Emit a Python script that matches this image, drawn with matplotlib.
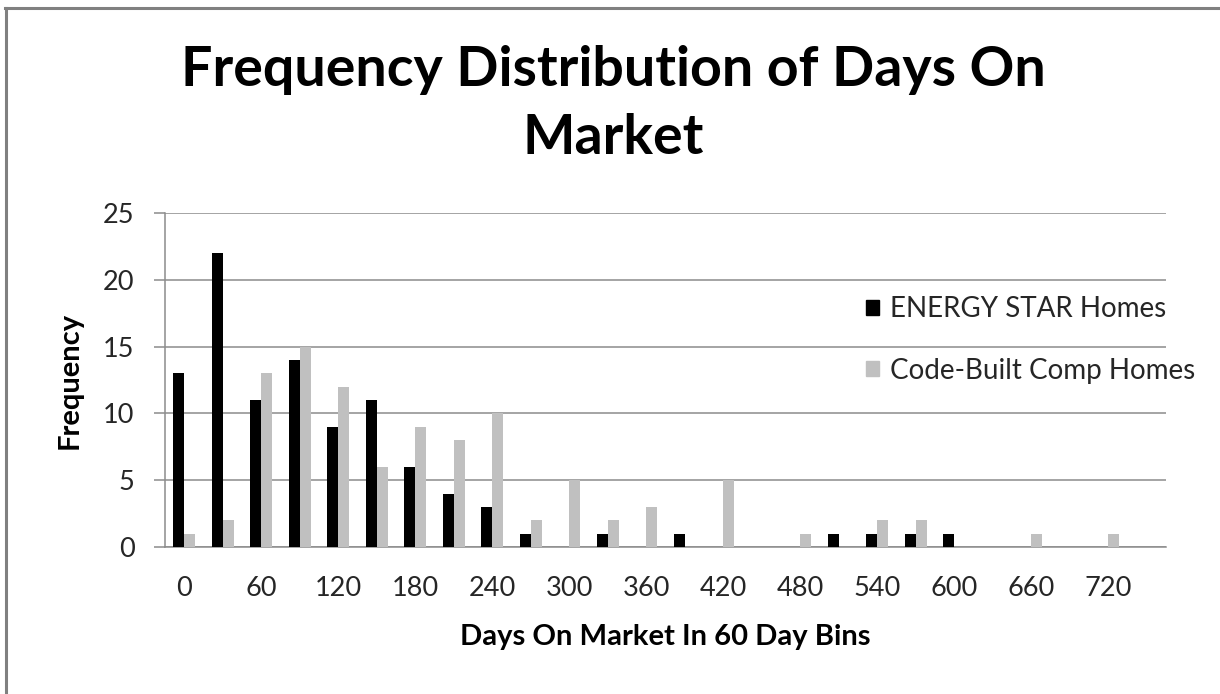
import matplotlib.pyplot as plt
import numpy as np
from matplotlib.lines import Line2D
from matplotlib.patches import Patch

# Data (30 day steps, labels every 60 days)
days = list(range(0, 751, 30))
energy_star = [13, 22, 11, 14, 9, 11, 6, 4, 3, 1, 0, 1, 0, 1, 0, 0, 0, 1, 1, 1, 1, 0, 0, 0, 0, 0]
code_built = [1, 2, 13, 15, 12, 6, 9, 8, 10, 2, 5, 2, 3, 0, 5, 0, 1, 0, 2, 2, 0, 0, 1, 0, 1, 0]
series_names = ['ENERGY STAR Homes', 'Code-Built Comp Homes']

plt.rcParams['font.family'] = ['Lato', 'DejaVu Sans']

fig = plt.figure(figsize=(12.2, 6.94), dpi=100)
W, H = 1220, 694
ax = fig.add_axes([165 / W, 1 - 547 / H, (1166 - 165) / W, (547 - 213) / H])

x = np.arange(len(days))
w = 0.286
ax.bar(x - w / 2, energy_star, width=w, color='#000000', zorder=3)
ax.bar(x + w / 2, code_built, width=w, color='#C0C0C0', zorder=3)

ax.set_xlim(-0.5, len(days) - 0.5)
ax.set_ylim(0, 25)
ax.set_yticks(range(0, 26, 5))
ax.set_xticks(x[::2])
ax.set_xticklabels([str(d) for d in days[::2]])

grid_col = '#8C8C8C'
ax.grid(axis='y', color=grid_col, linewidth=1.1, zorder=0)
for s in ['top', 'right']:
    ax.spines[s].set_visible(False)
ax.spines['left'].set_color(grid_col)
ax.spines['bottom'].set_color(grid_col)
ax.spines['left'].set_linewidth(1.1)
ax.spines['bottom'].set_linewidth(1.1)
ax.tick_params(axis='y', length=8, width=1.1, color=grid_col, labelsize=19.5,
               labelcolor='#262626', pad=14)
ax.tick_params(axis='x', length=0, labelsize=19.5, labelcolor='#262626', pad=21)

# titles and axis labels
fig.text(0.503, 1 - 86 / H, 'Frequency Distribution of Days On', ha='center',
         va='baseline', fontsize=40, fontweight='bold')
fig.text(0.503, 1 - 154 / H, 'Market', ha='center', va='baseline',
         fontsize=40, fontweight='bold')
fig.text(665 / W, 1 - 637 / H, 'Days On Market In 60 Day Bins', ha='center',
         va='center', fontsize=21, fontweight='bold')
fig.text(70 / W, 1 - 380 / H, 'Frequency', ha='center', va='center',
         rotation=90, fontsize=21, fontweight='bold')

handles = [Patch(color='#000000'), Patch(color='#C0C0C0')]
fig.legend(handles, series_names, loc='upper left',
           bbox_to_anchor=(866 / W, 1 - 296 / H), frameon=False,
           fontsize=20, handlelength=0.45, handleheight=0.45,
           handletextpad=0.4, labelspacing=1.28, labelcolor='#262626',
           borderpad=0, borderaxespad=0)

# chart border (left and top only, as in the source)
fig.add_artist(Line2D([5.5 / W, 5.5 / W], [0, 1 - 8 / H], color='#808080',
                      linewidth=2.2))
fig.add_artist(Line2D([4.5 / W, 1], [1 - 8 / H, 1 - 8 / H], color='#808080',
                      linewidth=2.2))

fig.savefig('out.png', dpi=100)
